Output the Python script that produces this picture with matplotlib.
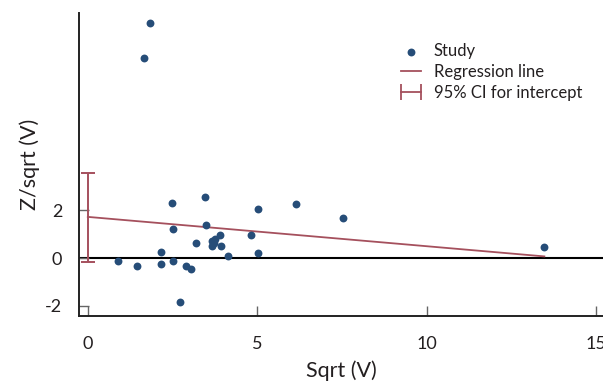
import matplotlib
matplotlib.use('Agg')
import matplotlib.pyplot as plt
import numpy as np
from matplotlib.lines import Line2D

plt.rcParams['font.family'] = ['Lato', 'DejaVu Sans']
plt.rcParams['axes.unicode_minus'] = False

# study points
sqrt_v = [1.84, 1.66, 0.90, 1.46, 2.16, 2.16, 2.48, 2.52, 2.52, 2.71,
          2.91, 3.05, 3.20, 3.46, 3.50, 3.67, 3.67, 3.72, 3.76, 3.89,
          3.94, 4.13, 4.81, 5.01, 5.03, 6.15, 7.54, 13.47]
z_sqrt = [9.87, 8.41, -0.11, -0.32, 0.24, -0.24, 2.32, 1.22, -0.14, -1.84,
          -0.32, -0.46, 0.64, 2.56, 1.37, 0.53, 0.71, 0.62, 0.82, 0.95,
          0.50, 0.11, 0.95, 2.08, 0.21, 2.29, 1.69, 0.45]

# regression + CI of intercept
intercept = 1.73
slope = -0.123
ci_low, ci_high = -0.15, 3.58

dot_col = '#264d78'
red_col = '#a5505d'
txt_col = '#231f20'

fig = plt.figure(figsize=(6.03, 3.86), dpi=100)
ax = fig.add_axes([0.131, 0.181, 0.869, 0.785])

ax.axhline(0, color='black', lw=1.5, zorder=1)

xr = np.array([0, max(sqrt_v)])
reg, = ax.plot(xr, intercept + slope * xr, color=red_col, lw=1.3, zorder=2)

ax.errorbar([0], [intercept], yerr=[[intercept - ci_low], [ci_high - intercept]],
            fmt='none', ecolor=red_col, elinewidth=1.4, capsize=5, capthick=1.4, zorder=2)

pts = ax.scatter(sqrt_v, z_sqrt, s=32, color=dot_col, zorder=3, linewidths=0)

ax.set_xlim(-0.26, 15.2)
ax.set_ylim(-2.43, 10.27)
ax.set_xticks([0, 5, 10, 15])
ax.set_yticks([-2, 0, 2])

for s in ['top', 'right']:
    ax.spines[s].set_visible(False)
for s in ['left', 'bottom']:
    ax.spines[s].set_color('#222222')
    ax.spines[s].set_linewidth(1.4)

ax.tick_params(direction='in', length=7, width=1, color='#666666',
               labelsize=13, labelcolor=txt_col)
ax.tick_params(axis='x', pad=14)
ax.tick_params(axis='y', pad=12)

ax.set_xlabel('Sqrt (V)', fontsize=15.5, color=txt_col, labelpad=6)
ax.set_ylabel('Z/sqrt (V)', fontsize=15.5, color=txt_col, labelpad=4)

ci_proxy = Line2D([0, 1], [0, 0], color=red_col, lw=1.3, marker='|',
                  markersize=11, markeredgewidth=1.3)
ax.legend([pts, reg, ci_proxy], ['Study', 'Regression line', '95% CI for intercept'],
          loc='upper left', bbox_to_anchor=(0.643, 0.91), bbox_transform=fig.transFigure,
          frameon=False, fontsize=12, handlelength=1.8, handletextpad=0.45,
          labelspacing=0.3, numpoints=2, scatterpoints=1, borderpad=0,
          labelcolor=txt_col)

fig.savefig('out.png', dpi=100)
